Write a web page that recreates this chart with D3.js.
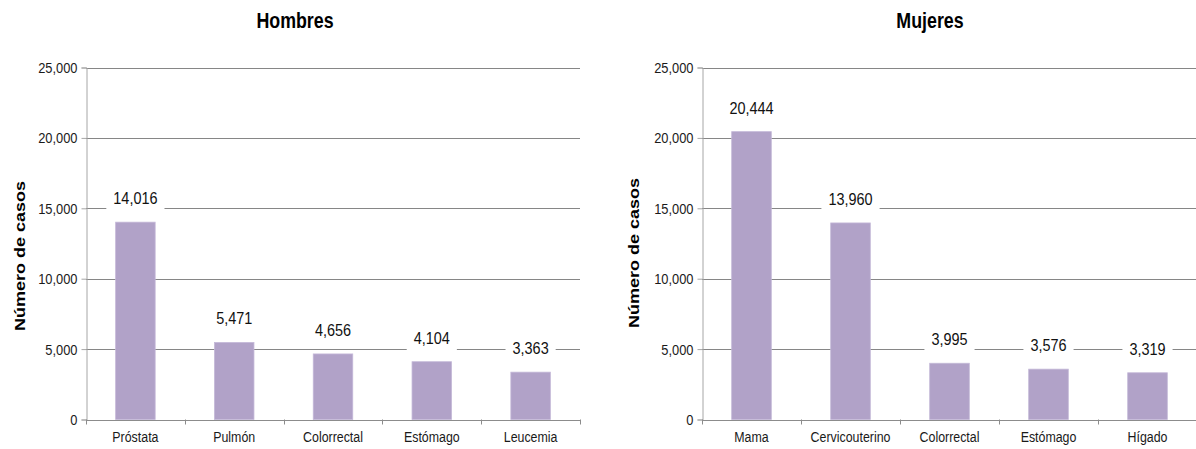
<!DOCTYPE html>
<html>
<head>
<meta charset="utf-8">
<script src="https://cdn.jsdelivr.net/npm/d3@7"></script>
<style>
  html, body { margin: 0; padding: 0; background: #fff; }
  svg { display: block; }
  text { font-family: "Liberation Sans", Arial, sans-serif; }
</style>
</head>
<body>
<svg id="chart" width="1196" height="449"></svg>
<script>
// Casos de cáncer por sitio, hombres y mujeres
const menCategories = ["Próstata", "Pulmón", "Colorrectal", "Estómago", "Leucemia"];
const menValues = [14016, 5471, 4656, 4104, 3363];
const womenCategories = ["Mama", "Cervicouterino", "Colorrectal", "Estómago", "Hígado"];
const womenValues = [20444, 13960, 3995, 3576, 3319];
const yTicks = [0, 5000, 10000, 15000, 20000, 25000];
const titles = ["Hombres", "Mujeres"];
const yAxisTitle = "Número de casos";

const svg = d3.select("#chart");
const fmt = d3.format(",");
const barColor = "#b1a2c8";

const panels = [
  { title: titles[0], cats: menCategories, vals: menValues,
    x0: 86, x1: 580, titleX: 295, axisTitleX: 25, axisTitleY: 256 },
  { title: titles[1], cats: womenCategories, vals: womenValues,
    x0: 702, x1: 1197, titleX: 930, axisTitleX: 639, axisTitleY: 253 }
];

const yTop = 67.5, yBottom = 419.5;

panels.forEach(p => {
  const g = svg.append("g");
  const x = d3.scaleBand().domain(p.cats).range([p.x0, p.x1])
    .paddingInner(0.6).paddingOuter(0.3);
  const y = d3.scaleLinear().domain([0, 25000]).range([yBottom, yTop]);

  // horizontal gridlines
  g.append("g").selectAll("line").data(yTicks.filter(t => t > 0)).join("line")
    .attr("x1", p.x0).attr("x2", p.x1)
    .attr("y1", d => Math.round(y(d)) + 0.5).attr("y2", d => Math.round(y(d)) + 0.5)
    .attr("stroke", "#868686").attr("stroke-width", 1);

  // y axis
  const yAxis = g.append("g").attr("transform", `translate(${p.x0 + 0.5},0)`)
    .call(d3.axisLeft(y).tickValues(yTicks).tickFormat(fmt).tickSize(5).tickPadding(0));
  yAxis.select(".domain").attr("stroke", "#a6a6a6");
  yAxis.selectAll(".tick line").attr("stroke", "#a6a6a6");
  yAxis.selectAll(".tick text")
    .attr("font-size", 14).attr("fill", "#1a1a1a")
    .attr("x", -9 / 0.92).attr("dy", "0.36em")
    .attr("transform", "scale(0.92,1)");

  // bars
  g.append("g").selectAll("rect").data(p.vals).join("rect")
    .attr("x", (d, i) => x(p.cats[i]))
    .attr("width", x.bandwidth())
    .attr("y", d => y(d))
    .attr("height", d => y(0) - y(d))
    .attr("fill", barColor)
    .attr("stroke", "#c4b8d8").attr("stroke-width", 0.8);

  // x axis: baseline with ticks at band boundaries
  const step = x.step();
  const bounds = d3.range(p.cats.length + 1).map(i => x(p.cats[0]) - step * 0.3 + i * step);
  g.append("line").attr("x1", p.x0).attr("x2", p.x1)
    .attr("y1", Math.round(y(0)) + 0.5).attr("y2", Math.round(y(0)) + 0.5)
    .attr("stroke", "#8c8c8c");
  g.append("g").selectAll("line").data(bounds).join("line")
    .attr("x1", d => Math.round(d) + 0.5).attr("x2", d => Math.round(d) + 0.5)
    .attr("y1", y(0)).attr("y2", y(0) + 5)
    .attr("stroke", "#8c8c8c");

  const xAxis = g.append("g").attr("transform", `translate(0,${y(0)})`)
    .call(d3.axisBottom(x).tickSize(0).tickPadding(0));
  xAxis.select(".domain").remove();
  xAxis.selectAll(".tick text")
    .attr("font-size", 15.5).attr("fill", "#1a1a1a")
    .attr("y", 23).attr("dy", 0)
    .attr("transform", "scale(0.8,1)")
    .attr("x", function () {
      return 0;
    });
  // keep labels centred after horizontal squeeze
  xAxis.selectAll(".tick").each(function () {
    const t = d3.select(this);
    const tx = +t.attr("transform").match(/translate\(([^,]+)/)[1];
    t.attr("transform", `translate(${tx},0)`);
  });

  // value labels on white boxes
  const labels = g.append("g").selectAll("g").data(p.vals).join("g")
    .attr("transform", (d, i) => `translate(${x(p.cats[i]) + x.bandwidth() / 2},${y(d) - 18})`);
  const lt = labels.append("text")
    .attr("text-anchor", "middle")
    .attr("font-size", 17).attr("fill", "#111")
    .attr("transform", "scale(0.85,1)")
    .text(d => fmt(d));
  labels.each(function () {
    const grp = d3.select(this);
    const w = grp.select("text").node().getComputedTextLength() * 0.85;
    grp.insert("rect", "text")
      .attr("x", -w / 2 - 7).attr("width", w + 14)
      .attr("y", -18).attr("height", 25)
      .attr("fill", "#fff");
  });

  // chart title
  g.append("text")
    .attr("transform", `translate(${p.titleX},28) scale(0.81,1)`)
    .attr("text-anchor", "middle").attr("font-weight", "bold")
    .attr("font-size", 22).attr("fill", "#000")
    .text(p.title);

  // y axis title
  g.append("text")
    .attr("transform", `translate(${p.axisTitleX},${p.axisTitleY}) rotate(-90) scale(1,0.85)`)
    .attr("text-anchor", "middle").attr("font-weight", "bold")
    .attr("font-size", 18).attr("fill", "#000")
    .text(yAxisTitle);
});
</script>
</body>
</html>
